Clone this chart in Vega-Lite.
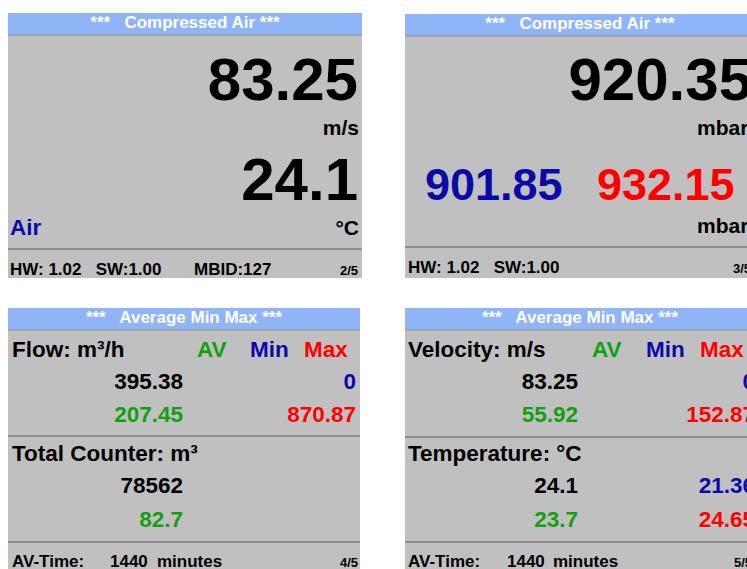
{
  "$schema": "https://vega.github.io/schema/vega-lite/v6.json",
  "width": 747,
  "height": 569,
  "autosize": {"type": "none"},
  "padding": 0,
  "background": "white",
  "config": {
    "view": {"stroke": null},
    "text": {"font": "Liberation Sans", "fontWeight": "bold"}
  },
  "datasets": {
    "panels": [
      {"x": 8, "x2": 362, "y": 35, "y2": 278, "part": "body"},
      {"x": 8, "x2": 362, "y": 13, "y2": 35, "part": "header"},
      {"x": 405, "x2": 757, "y": 36, "y2": 278, "part": "body"},
      {"x": 405, "x2": 757, "y": 14, "y2": 36, "part": "header"},
      {"x": 8, "x2": 360, "y": 330, "y2": 569, "part": "body"},
      {"x": 8, "x2": 360, "y": 308, "y2": 330, "part": "header"},
      {"x": 405, "x2": 757, "y": 330, "y2": 569, "part": "body"},
      {"x": 405, "x2": 757, "y": 308, "y2": 330, "part": "header"}
    ],
    "rules": [
      {"x": 8, "x2": 362, "y": 249, "kind": "divider"},
      {"x": 405, "x2": 757, "y": 247, "kind": "divider"},
      {"x": 8, "x2": 360, "y": 436, "kind": "divider"},
      {"x": 8, "x2": 360, "y": 542, "kind": "divider"},
      {"x": 405, "x2": 757, "y": 437, "kind": "divider"},
      {"x": 405, "x2": 757, "y": 542, "kind": "divider"},
      {"x": 8, "x2": 362, "y": 35, "kind": "edge"},
      {"x": 405, "x2": 757, "y": 36, "kind": "edge"},
      {"x": 8, "x2": 360, "y": 330, "kind": "edge"},
      {"x": 405, "x2": 757, "y": 330, "kind": "edge"}
    ],
    "leftTexts": [
      {"t": "Air", "x": 10, "y": 235, "tone": "blue", "role": "label"},
      {"t": "HW: 1.02\u00a0\u00a0 SW:1.00", "x": 10, "y": 275, "tone": "black", "role": "foot"},
      {"t": "MBID:127", "x": 194, "y": 275, "tone": "black", "role": "foot"},
      {"t": "mbar", "x": 697, "y": 135, "tone": "black", "role": "unit"},
      {"t": "901.85", "x": 425, "y": 200, "tone": "blue", "role": "mid"},
      {"t": "932.15", "x": 597, "y": 200, "tone": "red", "role": "mid"},
      {"t": "mbar", "x": 697, "y": 233, "tone": "black", "role": "unit"},
      {"t": "HW: 1.02\u00a0\u00a0 SW:1.00", "x": 408, "y": 273, "tone": "black", "role": "foot"},
      {"t": "3/5", "x": 733, "y": 273, "tone": "black", "role": "page"},
      {"t": "Flow: m³/h", "x": 12, "y": 357, "tone": "black", "role": "label"},
      {"t": "AV", "x": 197, "y": 357, "tone": "green", "role": "label"},
      {"t": "Min", "x": 250, "y": 357, "tone": "blue", "role": "label"},
      {"t": "Max", "x": 304, "y": 357, "tone": "red", "role": "label"},
      {"t": "Total Counter: m³", "x": 12, "y": 461, "tone": "black", "role": "label"},
      {"t": "AV-Time:", "x": 12, "y": 567, "tone": "black", "role": "foot"},
      {"t": "1440", "x": 110, "y": 567, "tone": "black", "role": "foot"},
      {"t": "minutes", "x": 157, "y": 567, "tone": "black", "role": "foot"},
      {"t": "Velocity: m/s", "x": 408, "y": 357, "tone": "black", "role": "label"},
      {"t": "AV", "x": 592, "y": 357, "tone": "green", "role": "label"},
      {"t": "Min", "x": 646, "y": 357, "tone": "blue", "role": "label"},
      {"t": "Max", "x": 700, "y": 357, "tone": "red", "role": "label"},
      {"t": "Temperature: °C", "x": 408, "y": 461, "tone": "black", "role": "label"},
      {"t": "AV-Time:", "x": 408, "y": 567, "tone": "black", "role": "foot"},
      {"t": "1440", "x": 507, "y": 567, "tone": "black", "role": "foot"},
      {"t": "minutes", "x": 553, "y": 567, "tone": "black", "role": "foot"},
      {"t": "5/5", "x": 734, "y": 567, "tone": "black", "role": "page"}
    ],
    "rightTexts": [
      {"t": "83.25", "x": 358, "y": 100, "tone": "black", "role": "big"},
      {"t": "m/s", "x": 359, "y": 135, "tone": "black", "role": "unit"},
      {"t": "24.1", "x": 358, "y": 200, "tone": "black", "role": "big"},
      {"t": "°C", "x": 359, "y": 235, "tone": "black", "role": "unit"},
      {"t": "2/5", "x": 358, "y": 275, "tone": "black", "role": "page"},
      {"t": "920.35", "x": 752, "y": 100, "tone": "black", "role": "big"},
      {"t": "395.38", "x": 183, "y": 389, "tone": "black", "role": "label"},
      {"t": "0", "x": 356, "y": 389, "tone": "blue", "role": "label"},
      {"t": "207.45", "x": 183, "y": 422, "tone": "green", "role": "label"},
      {"t": "870.87", "x": 356, "y": 422, "tone": "red", "role": "label"},
      {"t": "78562", "x": 183, "y": 493, "tone": "black", "role": "label"},
      {"t": "82.7", "x": 183, "y": 527, "tone": "green", "role": "label"},
      {"t": "4/5", "x": 358, "y": 567, "tone": "black", "role": "page"},
      {"t": "83.25", "x": 578, "y": 389, "tone": "black", "role": "label"},
      {"t": "0", "x": 755, "y": 389, "tone": "blue", "role": "label"},
      {"t": "55.92", "x": 578, "y": 422, "tone": "green", "role": "label"},
      {"t": "152.87", "x": 755, "y": 422, "tone": "red", "role": "label"},
      {"t": "24.1", "x": 578, "y": 493, "tone": "black", "role": "label"},
      {"t": "21.36", "x": 755, "y": 493, "tone": "blue", "role": "label"},
      {"t": "23.7", "x": 578, "y": 527, "tone": "green", "role": "label"},
      {"t": "24.65", "x": 755, "y": 527, "tone": "red", "role": "label"}
    ],
    "centerTexts": [
      {"t": "***\u00a0\u00a0 Compressed Air ***", "x": 185, "y": 28, "tone": "white", "role": "head"},
      {"t": "***\u00a0\u00a0 Compressed Air ***", "x": 580, "y": 29, "tone": "white", "role": "head"},
      {"t": "***\u00a0\u00a0 Average Min Max ***", "x": 184, "y": 323, "tone": "white", "role": "head"},
      {"t": "***\u00a0\u00a0 Average Min Max ***", "x": 580, "y": 323, "tone": "white", "role": "head"}
    ]
  },
  "encoding": {
    "x": {"field": "x", "type": "quantitative", "axis": null, "scale": {"domain": [0, 747], "nice": false, "zero": false}},
    "y": {"field": "y", "type": "quantitative", "axis": null, "scale": {"domain": [0, 569], "nice": false, "zero": false, "reverse": true}},
    "color": {"field": "tone", "type": "nominal", "legend": null, "scale": {"domain": ["black", "blue", "green", "red", "white"], "range": ["#000000", "#0a0aa8", "#12a012", "#ff0000", "#ffffff"]}},
    "size": {"field": "role", "type": "ordinal", "legend": null, "scale": {"type": "ordinal", "domain": ["big", "mid", "label", "unit", "foot", "page", "head"], "range": [60, 45, 22.5, 21, 17, 13, 17]}}
  },
  "layer": [
    {
      "data": {"name": "panels"},
      "mark": {"type": "rect", "clip": true},
      "encoding": {
        "x2": {"field": "x2"},
        "y2": {"field": "y2"},
        "color": null,
        "size": null,
        "fill": {"field": "part", "type": "nominal", "legend": null, "scale": {"domain": ["body", "header"], "range": ["#c0c0c0", "#8fb4f7"]}}
      }
    },
    {
      "data": {"name": "rules"},
      "mark": {"type": "rule", "strokeWidth": 1.5, "clip": true},
      "encoding": {
        "x2": {"field": "x2"},
        "color": null,
        "size": null,
        "stroke": {"field": "kind", "type": "nominal", "legend": null, "scale": {"domain": ["divider", "edge"], "range": ["#7c7c7c", "#9c9c9c"]}}
      }
    },
    {
      "data": {"name": "leftTexts"},
      "mark": {"type": "text", "align": "left", "baseline": "alphabetic", "clip": true},
      "encoding": {"text": {"field": "t"}}
    },
    {
      "data": {"name": "rightTexts"},
      "mark": {"type": "text", "align": "right", "baseline": "alphabetic", "clip": true},
      "encoding": {"text": {"field": "t"}}
    },
    {
      "data": {"name": "centerTexts"},
      "mark": {"type": "text", "align": "center", "baseline": "alphabetic", "clip": true},
      "encoding": {"text": {"field": "t"}}
    }
  ]
}
